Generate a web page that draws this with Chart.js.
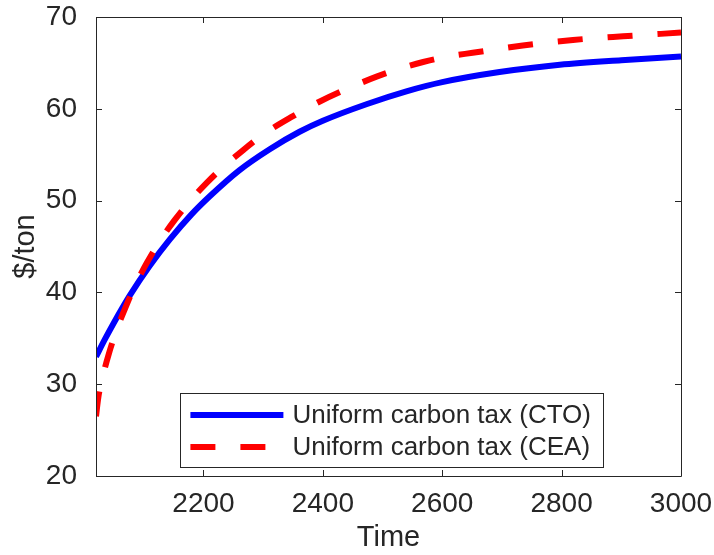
<!DOCTYPE html>
<html>
<head>
<meta charset="utf-8">
<script src="https://cdn.jsdelivr.net/npm/chart.js@4"></script>
<style>
  html, body { margin: 0; padding: 0; background: #ffffff; }
  #wrap { width: 714px; height: 555px; }
</style>
</head>
<body>
<div id="wrap"><canvas id="taxChart"></canvas></div>
<script>
// values
const ctoYears = [2020, 2035, 2050, 2077, 2110, 2144, 2180, 2211, 2260, 2311, 2361, 2400, 2473, 2540, 2600, 2696, 2797, 2900, 3000];
const ctoTax   = [33.0, 34.9, 36.7, 39.7, 42.9, 45.8, 48.5, 50.5, 53.3, 55.6, 57.5, 58.7, 60.5, 61.9, 62.9, 64.0, 64.8, 65.3, 65.7];

const ceaYears = [2020, 2024, 2030, 2041, 2055, 2069, 2085, 2105, 2128, 2152, 2178, 2205, 2232, 2261, 2300, 2350, 2395, 2445, 2490, 2530, 2568, 2610, 2651, 2735, 2819, 2903, 3000];
const ceaTax   = [26.5, 28.6, 30.5, 33.2, 36.0, 38.3, 40.7, 43.2, 45.7, 47.9, 50.0, 51.9, 53.6, 55.2, 57.2, 59.2, 60.8, 62.3, 63.5, 64.4, 65.1, 65.7, 66.1, 66.9, 67.5, 67.9, 68.3];

const xTicks = [2200, 2400, 2600, 2800, 3000];
const yTicks = [20, 30, 40, 50, 60, 70];

const seriesLabels = ["Uniform carbon tax (CTO)", "Uniform carbon tax (CEA)"];

const ink = "#262626";
const fontFamily = "'Liberation Sans', Arial, Helvetica, sans-serif";

const toPoints = (xs, ys) => xs.map((x, i) => ({ x: x, y: ys[i] }));

// keep the plot box where the layout padding puts it
const noOverhang = (scale) => {
  scale.paddingTop = 0;
  scale.paddingBottom = 0;
  scale.paddingLeft = 0;
  scale.paddingRight = 0;
};

// box around the axes with inward ticks, like matlab
const axesBox = {
  id: "axesBox",
  afterDatasetsDraw(chart) {
    const { ctx, chartArea: a, scales } = chart;
    const len = 6;
    ctx.save();
    ctx.strokeStyle = ink;
    ctx.lineWidth = 1;
    ctx.beginPath();
    ctx.rect(a.left + 0.5, a.top + 0.5, a.right - a.left, a.bottom - a.top);
    xTicks.forEach((v) => {
      const px = Math.round(scales.x.getPixelForValue(v)) + 0.5;
      ctx.moveTo(px, a.bottom);
      ctx.lineTo(px, a.bottom - len);
      ctx.moveTo(px, a.top);
      ctx.lineTo(px, a.top + len);
    });
    yTicks.forEach((v) => {
      const py = Math.round(scales.y.getPixelForValue(v)) + 0.5;
      ctx.moveTo(a.left, py);
      ctx.lineTo(a.left + len, py);
      ctx.moveTo(a.right, py);
      ctx.lineTo(a.right - len, py);
    });
    ctx.stroke();
    ctx.restore();
  },
};

// legend box inside the axes
const boxLegend = {
  id: "boxLegend",
  afterDraw(chart) {
    const { ctx, chartArea: a } = chart;
    const sets = chart.data.datasets;
    ctx.save();
    ctx.font = "26px " + fontFamily;
    const textW = Math.max(...sets.map((d) => ctx.measureText(d.label).width));
    const rowH = 32;
    const lineLen = 93;
    const w = 10 + lineLen + 9 + textW + 12;
    const h = 74;
    const right = a.right - 78;
    const bottom = a.bottom - 9;
    const left = right - w;
    const top = bottom - h;

    ctx.fillStyle = "#ffffff";
    ctx.fillRect(left, top, w, h);
    ctx.strokeStyle = ink;
    ctx.lineWidth = 1;
    ctx.strokeRect(Math.round(left) + 0.5, Math.round(top) + 0.5, Math.round(w), Math.round(h));

    sets.forEach((d, i) => {
      const y = top + 22 + i * rowH;
      ctx.beginPath();
      ctx.strokeStyle = d.borderColor;
      ctx.lineWidth = d.borderWidth;
      ctx.setLineDash(d.borderDash || []);
      ctx.moveTo(left + 10, y);
      ctx.lineTo(left + 10 + lineLen, y);
      ctx.stroke();
      ctx.setLineDash([]);
      ctx.fillStyle = ink;
      ctx.textBaseline = "middle";
      ctx.textAlign = "left";
      ctx.fillText(d.label, left + 10 + lineLen + 9, y + 1);
    });
    ctx.restore();
  },
};

new Chart(document.getElementById("taxChart"), {
  type: "line",
  data: {
    datasets: [
      {
        label: seriesLabels[0],
        data: toPoints(ctoYears, ctoTax),
        borderColor: "#0000ff",
        borderWidth: 6,
        pointRadius: 0,
        cubicInterpolationMode: "monotone",
        clip: 0,
        order: 1,
      },
      {
        label: seriesLabels[1],
        data: toPoints(ceaYears, ceaTax),
        borderColor: "#ff0000",
        borderWidth: 6,
        borderDash: [25, 25],
        pointRadius: 0,
        cubicInterpolationMode: "monotone",
        clip: 0,
        order: 0,
      },
    ],
  },
  plugins: [axesBox, boxLegend],
  options: {
    responsive: true,
    maintainAspectRatio: false,
    animation: false,
    layout: { padding: { top: 17, right: 33, left: 0, bottom: 0 } },
    plugins: {
      legend: { display: false },
      tooltip: { enabled: false },
    },
    scales: {
      x: {
        type: "linear",
        min: 2020,
        max: 3000,
        grid: { display: false },
        border: { display: false },
        afterBuildTicks: (scale) => {
          scale.ticks = xTicks.map((v) => ({ value: v }));
        },
        afterFit: (scale) => {
          scale.height = 79;
          noOverhang(scale);
        },
        ticks: {
          color: ink,
          padding: 3,
          maxRotation: 0,
          font: { family: fontFamily, size: 28 },
          callback: (v) => String(v),
        },
        title: {
          display: true,
          text: "Time",
          color: ink,
          font: { family: fontFamily, size: 29 },
          padding: { top: 2, bottom: 0 },
        },
      },
      y: {
        min: 20,
        max: 70,
        grid: { display: false },
        border: { display: false },
        afterBuildTicks: (scale) => {
          scale.ticks = yTicks.map((v) => ({ value: v }));
        },
        afterFit: (scale) => {
          scale.width = 96;
          noOverhang(scale);
        },
        ticks: {
          color: ink,
          padding: 11,
          font: { family: fontFamily, size: 28 },
        },
        title: {
          display: true,
          text: "$/ton",
          color: ink,
          font: { family: fontFamily, size: 29 },
          padding: { top: 9, bottom: 0 },
        },
      },
    },
  },
});
</script>
</body>
</html>
